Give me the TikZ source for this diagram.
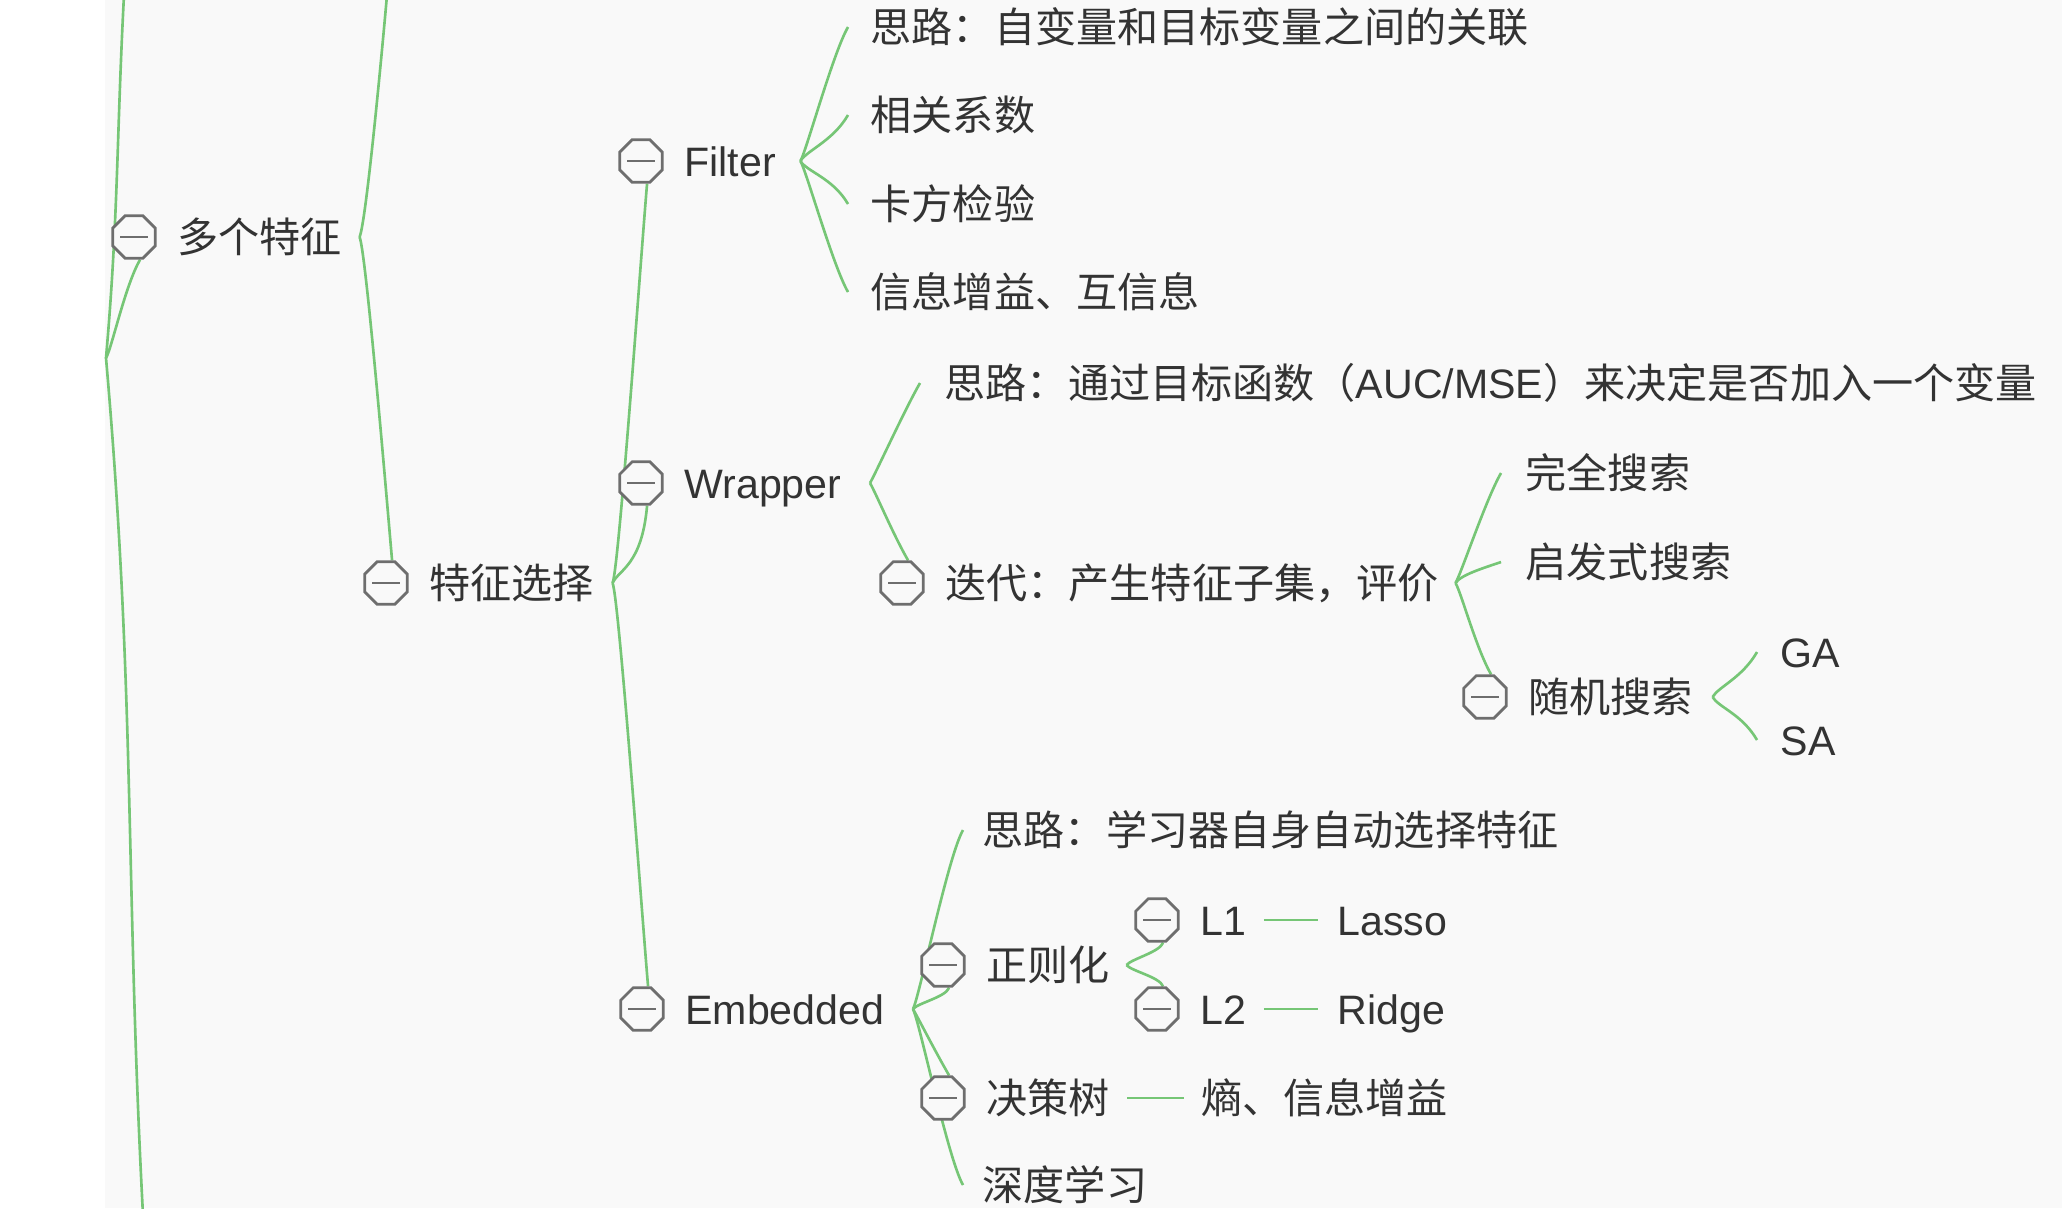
\documentclass[tikz,border=0pt]{standalone}
\usepackage{fontspec}
\setmainfont{Noto Sans CJK SC}
\newfontfamily\latfont{Liberation Sans}
\usetikzlibrary{positioning,shapes.geometric,backgrounds}

\definecolor{panelbg}{HTML}{F9F9F9}
\definecolor{branchgreen}{HTML}{76C676}
\definecolor{btngray}{HTML}{6E6E6E}
\definecolor{mmtext}{HTML}{333333}

\newcommand{\mmsize}{\fontsize{11.7}{14}\selectfont}

\tikzset{
    btn/.style={regular polygon, regular polygon sides=8, draw=btngray,
        line width=0.8pt, fill=panelbg, minimum size=0.46cm, inner sep=0pt,
        path picture={\draw[btngray, line width=0.8pt]
            ([xshift=-0.14cm]path picture bounding box.center) --
            ([xshift=0.14cm]path picture bounding box.center);}},
    txt/.style={anchor=west, inner sep=0pt, text=mmtext, font=\mmsize,
        text height=0.355cm, text depth=0.05cm},
    ltxt/.style={txt, font=\latfont\mmsize},
    br/.style={draw=branchgreen, line width=0.75pt},
    brup/.style={out=60, in=240, out distance=0.12cm, in distance=0.3cm},
    brdn/.style={out=-60, in=120, out distance=0.12cm, in distance=0.3cm},
    brupl/.style={out=65, in=265, out distance=0.15cm, in distance=0.6cm},
    brdnl/.style={out=-65, in=95, out distance=0.15cm, in distance=0.6cm},
    brsup/.style={out=50, in=250, out distance=0.08cm, in distance=0.1cm},
    brsdn/.style={out=-50, in=110, out distance=0.08cm, in distance=0.1cm},
}

\begin{document}
\begin{tikzpicture}
    \useasboundingbox (0,0) rectangle (20.62,-12.08);
    \clip (0,0) rectangle (20.62,-12.08);

    % first level
    \node[btn] (bmulti) at (1.34,-2.37) {};
    \node[txt, right=0.2cm of bmulti] (multi) {多个特征};
    \node[btn] (bsel) at (3.86,-5.83) {};
    \node[txt, right=0.2cm of bsel] (sel) {特征选择};

    % methods
    \node[btn] (bfilter) at (6.41,-1.61) {};
    \node[ltxt, right=0.2cm of bfilter] (filter) {Filter};
    \node[btn] (bwrap) at (6.41,-4.83) {};
    \node[ltxt, right=0.2cm of bwrap] (wrap) {Wrapper};
    \node[btn] (bembed) at (6.42,-10.09) {};
    \node[ltxt, right=0.2cm of bembed] (embed) {Embedded};

    % Filter
    \node[txt] (f1) at (8.70,-0.27) {思路：自变量和目标变量之间的关联};
    \node[txt] (f2) at (8.70,-1.15) {相关系数};
    \node[txt] (f3) at (8.70,-2.04) {卡方检验};
    \node[txt] (f4) at (8.70,-2.92) {信息增益、互信息};

    % Wrapper
    \node[txt] (w1) at (9.44,-3.83) {思路：通过目标函数（{\latfont AUC/MSE}）来决定是否加入一个变量};
    \node[btn] (biter) at (9.02,-5.83) {};
    \node[txt, right=0.2cm of biter] (iter) {迭代：产生特征子集，评价};
    \node[txt] (full) at (15.25,-4.73) {完全搜索};
    \node[txt] (heur) at (15.25,-5.62) {启发式搜索};
    \node[btn] (brand) at (14.85,-6.97) {};
    \node[txt, right=0.2cm of brand] (rand) {随机搜索};
    \node[ltxt] (ga) at (17.80,-6.52) {GA};
    \node[ltxt] (sa) at (17.80,-7.40) {SA};

    % Embedded
    \node[txt] (e1) at (9.82,-8.30) {思路：学习器自身自动选择特征};
    \node[btn] (breg) at (9.43,-9.65) {};
    \node[txt, right=0.2cm of breg] (reg) {正则化};
    \node[btn] (bl1) at (11.57,-9.20) {};
    \node[ltxt, right=0.2cm of bl1] (l1) {L1};
    \node[ltxt, right=0.9cm of l1] (lasso) {Lasso};
    \node[btn] (bl2) at (11.57,-10.09) {};
    \node[ltxt, right=0.2cm of bl2] (l2) {L2};
    \node[ltxt, right=0.9cm of l2] (ridge) {Ridge};
    \node[btn] (btree) at (9.43,-10.98) {};
    \node[txt, right=0.2cm of btree] (tree) {决策树};
    \node[txt, right=0.9cm of tree] (entropy) {熵、信息增益};
    \node[txt] (deep) at (9.82,-11.85) {深度学习};

    % junctions
    \coordinate (jroot) at (1.06,-3.58);
    \coordinate (uptop) at (1.24,0.05);
    \coordinate (downbot) at (1.43,-12.15);
    \coordinate (multitop) at (3.87,0.05);
    \coordinate (jmulti) at ([xshift=0.17cm]multi.east);
    \coordinate (jsel) at ([xshift=0.18cm]sel.east);
    \coordinate (jfilter) at ([xshift=0.24cm]filter.east);
    \coordinate (jwrap) at ([xshift=0.28cm]wrap.east);
    \coordinate (jembed) at ([xshift=0.28cm]embed.east);
    \coordinate (jiter) at ([xshift=0.16cm]iter.east);
    \coordinate (jrand) at ([xshift=0.19cm]rand.east);
    \coordinate (jreg) at ([xshift=0.16cm]reg.east);

    \begin{scope}[on background layer]
        \fill[white] (0,0) rectangle (1.05,-12.08);
        \fill[panelbg] (1.05,0) rectangle (20.62,-12.08);

        % root and first level
        \draw[br] (jroot) to[out=85, in=-93] (uptop);
        \draw[br] (jroot) to[brup] (bmulti.-75);
        \draw[br] (jroot) to[out=-85, in=93] (downbot);
        \draw[br] (jmulti) to[brupl] (multitop);
        \draw[br] (jmulti) to[brdnl] (bsel.75);

        \draw[br] (jsel) to[brupl] (bfilter.-75);
        \draw[br] (jsel) to[brupl] (bwrap.-75);
        \draw[br] (jsel) to[brdnl] (bembed.75);

        % Filter
        \draw[br] (jfilter) to[brup] ([xshift=-0.22cm]f1.west);
        \draw[br] (jfilter) to[brup] ([xshift=-0.22cm]f2.west);
        \draw[br] (jfilter) to[brdn] ([xshift=-0.22cm]f3.west);
        \draw[br] (jfilter) to[brdn] ([xshift=-0.22cm]f4.west);

        % Wrapper
        \draw[br] (jwrap) to[brup] ([xshift=-0.24cm]w1.west);
        \draw[br] (jwrap) to[brdn] (biter.75);
        \draw[br] (jiter) to[brup] ([xshift=-0.24cm]full.west);
        \draw[br] (jiter) to[out=60, in=200, out distance=0.1cm, in distance=0.12cm] ([xshift=-0.24cm]heur.west);
        \draw[br] (jiter) to[brdn] (brand.75);
        \draw[br] (jrand) to[brup] ([xshift=-0.23cm]ga.west);
        \draw[br] (jrand) to[brdn] ([xshift=-0.23cm]sa.west);

        % Embedded
        \draw[br] (jembed) to[brup] ([xshift=-0.19cm]e1.west);
        \draw[br] (jembed) to[brsup] (breg.-75);
        \draw[br] (jembed) to[brdn] (btree.75);
        \draw[br] (jembed) to[brdn] ([xshift=-0.19cm]deep.west);
        \draw[br] (jreg) to[brsup] (bl1.-75);
        \draw[br] (jreg) to[brsdn] (bl2.75);
        \draw[br] ([xshift=0.17cm]l1.east) -- ([xshift=-0.19cm]lasso.west);
        \draw[br] ([xshift=0.17cm]l2.east) -- ([xshift=-0.19cm]ridge.west);
        \draw[br] ([xshift=0.17cm]tree.east) -- ([xshift=-0.16cm]entropy.west);
    \end{scope}
\end{tikzpicture}
\end{document}
